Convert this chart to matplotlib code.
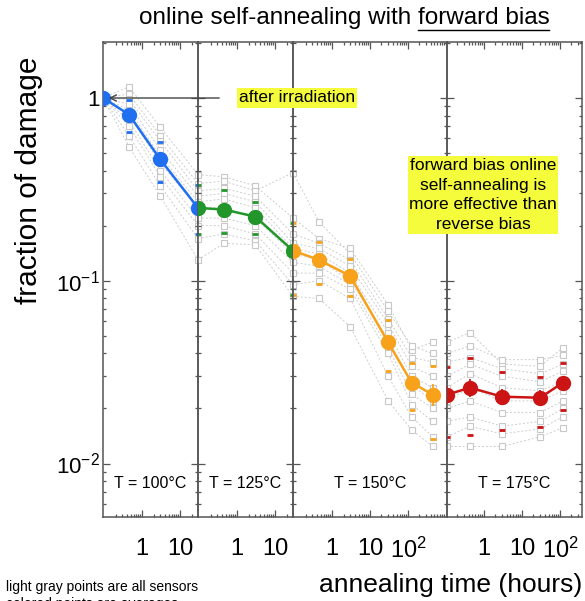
import matplotlib
matplotlib.use("Agg")
import matplotlib.pyplot as plt
import matplotlib.ticker as mticker
from matplotlib.patches import FancyArrowPatch
from matplotlib.lines import Line2D

plt.rcParams['font.family'] = ['Liberation Sans', 'DejaVu Sans']
plt.rcParams['mathtext.fontset'] = 'custom'
plt.rcParams['mathtext.rm'] = 'Liberation Sans'
plt.rcParams['mathtext.it'] = 'Liberation Sans:italic'

# ---- data ----
temps = ["T = 100°C", "T = 125°C", "T = 150°C", "T = 175°C"]
colors = ["#1f6ff0", "#22962a", "#f8a21c", "#cc1414"]

# annealing times (hours) per temperature step
t_100 = [0.093, 0.45, 3.0, 29.5]
t_125 = [0.093, 0.45, 3.0, 29.5]
t_150 = [0.093, 0.45, 3.0, 30.0, 125.0, 450.0]
t_175 = [0.107, 0.43, 3.0, 30.0, 120.0]

# average fraction of damage
mean_100 = [1.0, 0.81, 0.46, 0.25]
mean_125 = [0.25, 0.245, 0.224, 0.146]
mean_150 = [0.146, 0.130, 0.106, 0.046, 0.0277, 0.0238]
mean_175 = [0.0238, 0.026, 0.0232, 0.0229, 0.0277]

# error factor on the averages
err_100 = [1.02, 1.03, 1.03, 1.04]
err_125 = [1.04, 1.04, 1.04, 1.05]
err_150 = [1.05, 1.04, 1.04, 1.06, 1.08, 1.15]
err_175 = [1.12, 1.12, 1.10, 1.10, 1.08]

# coloured spread marks (upper / lower)
hi_100 = [1.0, 0.967, 0.577, 0.335]
lo_100 = [1.0, 0.654, 0.347, 0.181]
hi_125 = [0.335, 0.314, 0.270, 0.207]
lo_125 = [0.181, 0.183, 0.181, 0.083]
hi_150 = [0.207, 0.163, 0.132, 0.0606, 0.0356, 0.0343]
lo_150 = [0.083, 0.096, 0.082, 0.0321, 0.0197, 0.0137]
hi_175 = [0.0339, 0.038, 0.0318, 0.0298, 0.0356]
lo_175 = [0.0139, 0.0144, 0.0153, 0.0158, 0.0197]

# individual sensors (light gray), one row per sensor
sens_100 = [
    [1, 1.15, 0.69, 0.38], [1, 1.05, 0.62, 0.34], [1, 0.98, 0.58, 0.31],
    [1, 0.92, 0.52, 0.29], [1, 0.86, 0.48, 0.27], [1, 0.80, 0.44, 0.25],
    [1, 0.75, 0.40, 0.22], [1, 0.70, 0.37, 0.20], [1, 0.62, 0.33, 0.17],
    [1, 0.54, 0.29, 0.13],
]
sens_125 = [
    [0.38, 0.37, 0.33, 0.22], [0.34, 0.35, 0.31, 0.39], [0.31, 0.32, 0.29, 0.18],
    [0.29, 0.30, 0.27, 0.16], [0.27, 0.28, 0.25, 0.15], [0.25, 0.25, 0.22, 0.14],
    [0.22, 0.22, 0.20, 0.126], [0.20, 0.20, 0.18, 0.11], [0.17, 0.18, 0.165, 0.095],
    [0.13, 0.16, 0.157, 0.082],
]
sens_150 = [
    [0.22, 0.17, 0.15, 0.074, 0.042, 0.046], [0.39, 0.21, 0.14, 0.068, 0.044, 0.040],
    [0.18, 0.16, 0.13, 0.062, 0.038, 0.036], [0.16, 0.15, 0.12, 0.058, 0.034, 0.030],
    [0.15, 0.14, 0.11, 0.052, 0.030, 0.026], [0.14, 0.13, 0.10, 0.048, 0.027, 0.022],
    [0.126, 0.12, 0.095, 0.043, 0.024, 0.020], [0.11, 0.11, 0.09, 0.040, 0.021, 0.017],
    [0.095, 0.10, 0.08, 0.030, 0.018, 0.014], [0.082, 0.08, 0.056, 0.022, 0.0153, 0.0124],
]
sens_175 = [
    [0.046, 0.052, 0.035, 0.034, 0.043], [0.040, 0.044, 0.037, 0.037, 0.039],
    [0.036, 0.038, 0.033, 0.031, 0.035], [0.030, 0.035, 0.030, 0.028, 0.032],
    [0.026, 0.031, 0.026, 0.025, 0.028], [0.022, 0.026, 0.022, 0.022, 0.025],
    [0.020, 0.022, 0.019, 0.019, 0.022], [0.017, 0.018, 0.016, 0.017, 0.020],
    [0.014, 0.016, 0.0145, 0.0155, 0.018], [0.0124, 0.0124, 0.0124, 0.014, 0.0157],
]

times = [t_100, t_125, t_150, t_175]
means = [mean_100, mean_125, mean_150, mean_175]
errs = [err_100, err_125, err_150, err_175]
his = [hi_100, hi_125, hi_150, hi_175]
los = [lo_100, lo_125, lo_150, lo_175]
sensors = [sens_100, sens_125, sens_150, sens_175]
xlims = [(0.093, 29.5), (0.093, 29.5), (0.093, 1070), (0.107, 380)]
xticks = [[1, 10], [1, 10], [1, 10, 100], [1, 10, 100]]

# ---- layout (pixels) ----
W, H = 585, 601
fig = plt.figure(figsize=(W / 100, H / 100), dpi=100)
edges = [103, 198, 293, 447, 582]
top_px, bot_px = 42, 517

frame = "#555555"
xt_lab = {1: "1", 10: "10", 100: "$10^2$"}
yt_lab = {1: "1", 0.1: "$10^{-1}$", 0.01: "$10^{-2}$"}

for i in range(4):
    l = edges[i] / W
    w = (edges[i + 1] - edges[i]) / W
    ax = fig.add_axes([l, 1 - bot_px / H, w, (bot_px - top_px) / H])
    ax.set_facecolor("none")
    ax.set_xscale("log")
    ax.set_yscale("log")
    ax.set_xlim(*xlims[i])
    ax.set_ylim(0.0051, 2.02)

    t = times[i]
    for row in sensors[i]:
        ax.plot(t, row, ls=(0, (2, 2)), lw=0.7, color="#cdcdcd",
                marker="s", ms=5, mfc="white", mec="#c8c8c8", mew=0.8, zorder=1)
    ax.plot(t, his[i], ls="none", marker="_", ms=5, mew=2, color=colors[i], zorder=2)
    ax.plot(t, los[i], ls="none", marker="_", ms=5, mew=2, color=colors[i], zorder=2)
    m = means[i]
    lower = [v - v / f for v, f in zip(m, errs[i])]
    upper = [v * f - v for v, f in zip(m, errs[i])]
    ax.errorbar(t, m, yerr=[lower, upper], fmt="-o", color=colors[i], ms=10,
                lw=1.8, elinewidth=1.3, capsize=0, zorder=3)

    ax.xaxis.set_major_locator(mticker.FixedLocator(xticks[i]))
    ax.xaxis.set_major_formatter(mticker.FuncFormatter(lambda v, p: xt_lab.get(round(v), "")))
    ax.xaxis.set_minor_locator(mticker.LogLocator(base=10, subs=range(2, 10), numticks=20))
    ax.xaxis.set_minor_formatter(mticker.NullFormatter())
    ax.yaxis.set_major_locator(mticker.FixedLocator([0.01, 0.1, 1]))
    ax.yaxis.set_minor_locator(mticker.LogLocator(base=10, subs=range(2, 10), numticks=20))
    ax.yaxis.set_minor_formatter(mticker.NullFormatter())
    if i == 0:
        ax.yaxis.set_major_formatter(mticker.FuncFormatter(
            lambda v, p: yt_lab.get(round(v, 3), "")))
    else:
        ax.yaxis.set_major_formatter(mticker.NullFormatter())

    ax.tick_params(which="both", direction="in", top=True, right=True,
                   color=frame, width=0.9)
    ax.tick_params(which="major", length=5)
    ax.tick_params(which="minor", length=2.5)
    ax.tick_params(axis="x", which="major", pad=15, labelsize=17)
    ax.tick_params(axis="y", which="major", pad=2, labelsize=16)
    for s in ax.spines.values():
        s.set_color(frame)
        s.set_linewidth(1.1)

    xc = (edges[i] + edges[i + 1]) / 2 / W
    fig.text(xc, 1 - 483 / H, temps[i], ha="center", va="center", fontsize=11.5)

# ---- labels and notes ----
fig.text(29 / W, 1 - 180 / H, "fraction of damage", rotation=90,
         ha="center", va="center", fontsize=21.5)
fig.text(582 / W, 1 - 585 / H, "annealing time (hours)", ha="right",
         va="center", fontsize=19)
fig.text(6 / W, 1 - 587 / H, "light gray points are all sensors",
         ha="left", va="center", fontsize=10)
fig.text(6 / W, 1 - 604 / H, "colored points are averages",
         ha="left", va="center", fontsize=10)

yellow = "#f4fc3c"
fig.text(297 / W, 1 - 98 / H, "after irradiation", ha="center", va="center",
         fontsize=12.5, bbox=dict(boxstyle="square,pad=0.12", fc=yellow, ec="none"))
fig.text(483 / W, 1 - 195 / H,
         "forward bias online\nself-annealing is\nmore effective than\nreverse bias",
         ha="center", va="center", fontsize=12.5, linespacing=1.4,
         bbox=dict(boxstyle="square,pad=0.08", fc=yellow, ec="none"))
fig.add_artist(FancyArrowPatch((222 / W, 1 - 98 / H), (106 / W, 1 - 98 / H),
                               transform=fig.transFigure, arrowstyle="->",
                               mutation_scale=11, color="#444444", lw=1.0))

# title with underlined part
t1 = fig.text(0, 1 - 18 / H, "online self-annealing with ", ha="left",
              va="center", fontsize=17.5)
t2 = fig.text(0, 1 - 18 / H, "forward bias", ha="left", va="center", fontsize=17.5)
fig.canvas.draw()
r = fig.canvas.get_renderer()
w1 = t1.get_window_extent(r).width
w2 = t2.get_window_extent(r).width
x0 = 344 - (w1 + w2) / 2
t1.set_x(x0 / W)
t2.set_x((x0 + w1) / W)
uy = 1 - 30 / H
fig.add_artist(Line2D([(x0 + w1) / W, (x0 + w1 + w2) / W], [uy, uy],
                      transform=fig.transFigure, color="black", lw=1.0))

fig.savefig("out.png", dpi=100)
